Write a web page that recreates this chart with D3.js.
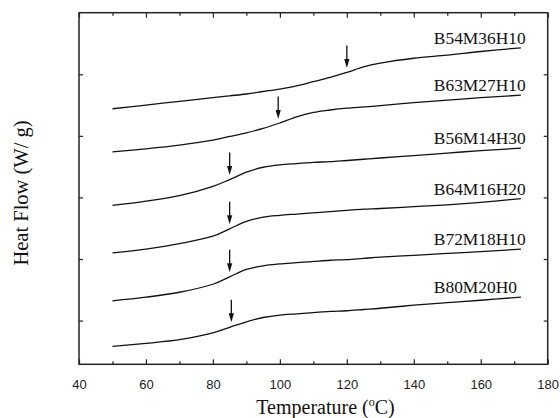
<!DOCTYPE html>
<html>
<head>
<meta charset="utf-8">
<script src="https://cdn.jsdelivr.net/npm/d3@7/dist/d3.min.js"></script>
<style>
  body { margin: 0; background: #fff; }
  svg { display: block; }
</style>
</head>
<body>
<svg id="chart" width="560" height="418"></svg>
<script>
// DSC traces, offset vertically (heat flow, arbitrary units)
const temps = [50, 60, 70, 80, 85, 90, 95, 100, 105, 110, 115, 120, 125, 130, 140, 150, 160, 172];

const names = ["B54M36H10", "B63M27H10", "B56M14H30", "B64M16H20", "B72M18H10", "B80M20H0"];

const b54 = [3.44, 3.50, 3.56, 3.62, 3.65, 3.68, 3.72, 3.76, 3.81, 3.88, 3.95, 4.03, 4.12, 4.18, 4.26, 4.31, 4.37, 4.43];
const b63 = [2.74, 2.79, 2.85, 2.93, 2.99, 3.05, 3.12, 3.21, 3.31, 3.38, 3.42, 3.45, 3.47, 3.49, 3.54, 3.58, 3.62, 3.66];
const b56 = [1.87, 1.94, 2.03, 2.18, 2.29, 2.41, 2.49, 2.53, 2.55, 2.57, 2.58, 2.60, 2.62, 2.64, 2.68, 2.72, 2.76, 2.80];
const b64 = [1.10, 1.16, 1.25, 1.37, 1.49, 1.61, 1.68, 1.71, 1.73, 1.75, 1.77, 1.79, 1.81, 1.82, 1.85, 1.88, 1.92, 1.98];
const b72 = [0.32, 0.38, 0.46, 0.59, 0.71, 0.83, 0.89, 0.92, 0.94, 0.96, 0.98, 0.99, 1.01, 1.03, 1.06, 1.09, 1.12, 1.16];
const b80 = [-0.42, -0.37, -0.31, -0.20, -0.11, -0.02, 0.05, 0.09, 0.11, 0.13, 0.15, 0.16, 0.18, 0.20, 0.25, 0.29, 0.33, 0.38];

// glass transition arrows (°C)
const tgArrows = [120, 99.5, 85, 85, 85, 85.5];

const xMajor = [40, 60, 80, 100, 120, 140, 160, 180];
const xMinor = [50, 70, 90, 110, 130, 150, 170];
const yTicks = [0, 1, 2, 3, 4];

const svg = d3.select("#chart");
const margin = {top: 12.7, right: 12.3, bottom: 53.7, left: 79};
const width = +svg.attr("width") - margin.left - margin.right;
const height = +svg.attr("height") - margin.top - margin.bottom;

const sans = "'Liberation Sans', Arial, sans-serif";
const serif = "'Liberation Serif', 'Times New Roman', serif";

const x = d3.scaleLinear().domain([40, 180]).range([0, width]);
const y = d3.scaleLinear().domain([-0.71, 5.0]).range([height, 0]);

const g = svg.append("g").attr("transform", `translate(${margin.left},${margin.top})`);

const series = [b54, b63, b56, b64, b72, b80].map((vals, i) => ({
  name: names[i],
  tg: tgArrows[i],
  pts: temps.map((t, j) => ({t: t, v: vals[j]}))
}));

// axes: ticks point inward on all four sides
function noDomain(sel) { sel.select(".domain").remove(); }

g.append("g")
  .attr("transform", `translate(0,${height})`)
  .call(d3.axisBottom(x).tickValues(xMajor).tickSize(-5).tickPadding(15))
  .call(noDomain)
  .call(a => a.selectAll("text").attr("font-family", sans).attr("font-size", 13).attr("fill", "#222"));

g.append("g")
  .attr("transform", `translate(0,${height})`)
  .call(d3.axisBottom(x).tickValues(xMinor).tickSize(-3).tickFormat(""))
  .call(noDomain);

g.append("g")
  .call(d3.axisTop(x).tickValues(xMajor).tickSize(-5).tickFormat(""))
  .call(noDomain);
g.append("g")
  .call(d3.axisTop(x).tickValues(xMinor).tickSize(-3).tickFormat(""))
  .call(noDomain);

g.append("g")
  .call(d3.axisLeft(y).tickValues(yTicks).tickSize(-4).tickFormat(""))
  .call(noDomain);
g.append("g")
  .attr("transform", `translate(${width},0)`)
  .call(d3.axisRight(y).tickValues(yTicks).tickSize(-4).tickFormat(""))
  .call(noDomain);

g.selectAll(".tick line").attr("stroke", "#222").attr("stroke-width", 1.2);

g.append("rect")
  .attr("width", width)
  .attr("height", height)
  .attr("fill", "none")
  .attr("stroke", "#222")
  .attr("stroke-width", 1.5);

// curves
const line = d3.line()
  .x(d => x(d.t))
  .y(d => y(d.v))
  .curve(d3.curveCatmullRom.alpha(0.5));

g.selectAll(".trace")
  .data(series)
  .join("path")
  .attr("class", "trace")
  .attr("d", d => line(d.pts))
  .attr("fill", "none")
  .attr("stroke", "#111")
  .attr("stroke-width", 1.3);

// sample names, left aligned above the end of each trace
g.selectAll(".name")
  .data(series)
  .join("text")
  .attr("class", "name")
  .attr("x", x(146))
  .attr("y", d => y(d.pts[d.pts.length - 1].v) - 4)
  .attr("font-family", serif)
  .attr("font-size", 17.4)
  .attr("fill", "#111")
  .text(d => d.name);

// Tg arrows
const arrowLen = 22.5, headH = 9, headW = 2.6, gap = 4.5;
const arrows = g.selectAll(".tg")
  .data(series)
  .join("g")
  .attr("class", "tg")
  .attr("transform", d => {
    const interp = d3.scaleLinear().domain(d.pts.map(p => p.t)).range(d.pts.map(p => p.v));
    return `translate(${x(d.tg)},${y(interp(d.tg)) - gap})`;
  });

arrows.append("line")
  .attr("y1", -arrowLen)
  .attr("y2", -headH + 1)
  .attr("stroke", "#111")
  .attr("stroke-width", 1.3);

arrows.append("path")
  .attr("d", `M${-headW},${-headH}L${headW},${-headH}L0,0Z`)
  .attr("fill", "#111");

// axis titles
const xt = svg.append("text")
  .attr("x", 325.5)
  .attr("y", 414)
  .attr("text-anchor", "middle")
  .attr("font-family", serif)
  .attr("font-size", 20)
  .attr("fill", "#111");
xt.append("tspan").text("Temperature (");
xt.append("tspan").attr("font-size", 12).attr("dy", -8).text("o");
xt.append("tspan").attr("dy", 8).text("C)");

svg.append("text")
  .attr("transform", "translate(28,193) rotate(-90)")
  .attr("text-anchor", "middle")
  .attr("font-family", serif)
  .attr("font-size", 20.5)
  .attr("fill", "#111")
  .text("Heat Flow (W/ g)");
</script>
</body>
</html>
